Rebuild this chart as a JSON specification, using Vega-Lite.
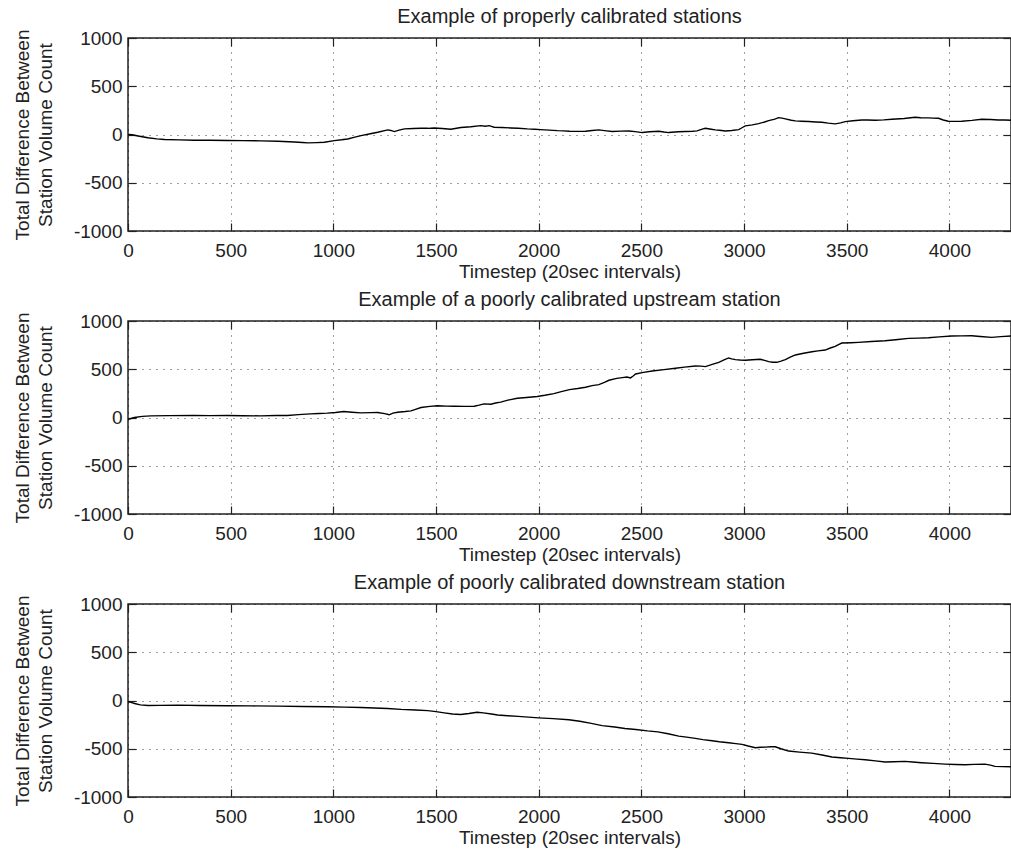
{
  "$schema": "https://vega.github.io/schema/vega-lite/v6.json",
  "padding": {"left": 12, "top": 6, "right": 0, "bottom": 5},
  "spacing": 90,
  "bounds": "flush",
  "datasets": {
    "p1": [
      {"t":0,"v":0},{"t":20,"v":-3},{"t":49,"v":-15},{"t":97,"v":-33},{"t":140,"v":-45},{"t":178,"v":-52},{"t":250,"v":-56},{"t":324,"v":-59},{"t":400,"v":-60},{"t":486,"v":-62},{"t":560,"v":-63},{"t":648,"v":-66},{"t":730,"v":-70},{"t":810,"v":-77},{"t":850,"v":-83},{"t":875,"v":-87},{"t":920,"v":-84},{"t":956,"v":-80},{"t":1005,"v":-63},{"t":1040,"v":-55},{"t":1070,"v":-46},{"t":1100,"v":-30},{"t":1135,"v":-11},{"t":1180,"v":8},{"t":1216,"v":23},{"t":1265,"v":48},{"t":1280,"v":42},{"t":1297,"v":30},{"t":1320,"v":45},{"t":1346,"v":58},{"t":1390,"v":62},{"t":1427,"v":65},{"t":1460,"v":64},{"t":1491,"v":68},{"t":1530,"v":62},{"t":1572,"v":55},{"t":1600,"v":65},{"t":1621,"v":72},{"t":1670,"v":80},{"t":1718,"v":92},{"t":1740,"v":85},{"t":1759,"v":92},{"t":1783,"v":75},{"t":1820,"v":72},{"t":1864,"v":68},{"t":1900,"v":65},{"t":1945,"v":58},{"t":1980,"v":55},{"t":2010,"v":51},{"t":2050,"v":45},{"t":2091,"v":40},{"t":2120,"v":38},{"t":2150,"v":34},{"t":2190,"v":32},{"t":2228,"v":34},{"t":2260,"v":42},{"t":2293,"v":48},{"t":2330,"v":38},{"t":2358,"v":31},{"t":2400,"v":35},{"t":2439,"v":37},{"t":2470,"v":30},{"t":2504,"v":20},{"t":2540,"v":28},{"t":2585,"v":34},{"t":2610,"v":26},{"t":2633,"v":20},{"t":2680,"v":28},{"t":2715,"v":31},{"t":2750,"v":34},{"t":2771,"v":37},{"t":2800,"v":58},{"t":2812,"v":65},{"t":2840,"v":55},{"t":2860,"v":48},{"t":2890,"v":42},{"t":2909,"v":37},{"t":2940,"v":42},{"t":2974,"v":51},{"t":2990,"v":70},{"t":3006,"v":89},{"t":3040,"v":100},{"t":3071,"v":113},{"t":3100,"v":130},{"t":3120,"v":144},{"t":3150,"v":160},{"t":3168,"v":175},{"t":3185,"v":170},{"t":3201,"v":162},{"t":3230,"v":148},{"t":3250,"v":141},{"t":3280,"v":137},{"t":3314,"v":134},{"t":3350,"v":130},{"t":3379,"v":127},{"t":3410,"v":118},{"t":3444,"v":110},{"t":3470,"v":120},{"t":3493,"v":134},{"t":3530,"v":142},{"t":3574,"v":151},{"t":3600,"v":150},{"t":3639,"v":148},{"t":3680,"v":152},{"t":3720,"v":158},{"t":3780,"v":166},{"t":3833,"v":179},{"t":3860,"v":174},{"t":3898,"v":172},{"t":3920,"v":170},{"t":3947,"v":168},{"t":3970,"v":150},{"t":3995,"v":138},{"t":4030,"v":136},{"t":4060,"v":138},{"t":4110,"v":146},{"t":4157,"v":158},{"t":4200,"v":155},{"t":4238,"v":151},{"t":4270,"v":150},{"t":4300,"v":148}
    ],
    "p2": [
      {"t":0,"v":-20},{"t":15,"v":-10},{"t":31,"v":0},{"t":70,"v":12},{"t":111,"v":17},{"t":200,"v":19},{"t":322,"v":21},{"t":400,"v":19},{"t":484,"v":21},{"t":560,"v":18},{"t":646,"v":17},{"t":720,"v":20},{"t":776,"v":21},{"t":830,"v":30},{"t":889,"v":38},{"t":930,"v":42},{"t":970,"v":45},{"t":1010,"v":52},{"t":1051,"v":62},{"t":1090,"v":55},{"t":1135,"v":48},{"t":1180,"v":50},{"t":1216,"v":52},{"t":1250,"v":40},{"t":1272,"v":28},{"t":1290,"v":45},{"t":1313,"v":55},{"t":1350,"v":62},{"t":1378,"v":69},{"t":1400,"v":85},{"t":1427,"v":103},{"t":1470,"v":115},{"t":1508,"v":121},{"t":1550,"v":118},{"t":1589,"v":117},{"t":1640,"v":115},{"t":1686,"v":117},{"t":1710,"v":128},{"t":1734,"v":141},{"t":1767,"v":138},{"t":1790,"v":150},{"t":1815,"v":159},{"t":1850,"v":180},{"t":1896,"v":200},{"t":1940,"v":208},{"t":1993,"v":217},{"t":2030,"v":230},{"t":2074,"v":248},{"t":2110,"v":268},{"t":2150,"v":289},{"t":2190,"v":300},{"t":2228,"v":314},{"t":2260,"v":330},{"t":2293,"v":341},{"t":2320,"v":365},{"t":2342,"v":386},{"t":2380,"v":405},{"t":2407,"v":413},{"t":2430,"v":420},{"t":2447,"v":410},{"t":2460,"v":430},{"t":2472,"v":451},{"t":2510,"v":468},{"t":2553,"v":482},{"t":2610,"v":496},{"t":2666,"v":510},{"t":2710,"v":522},{"t":2763,"v":534},{"t":2790,"v":532},{"t":2812,"v":527},{"t":2845,"v":550},{"t":2877,"v":572},{"t":2900,"v":595},{"t":2925,"v":617},{"t":2940,"v":608},{"t":2958,"v":600},{"t":2980,"v":596},{"t":3006,"v":593},{"t":3040,"v":598},{"t":3079,"v":603},{"t":3100,"v":592},{"t":3120,"v":579},{"t":3140,"v":572},{"t":3160,"v":572},{"t":3180,"v":585},{"t":3201,"v":600},{"t":3225,"v":625},{"t":3250,"v":648},{"t":3290,"v":666},{"t":3331,"v":682},{"t":3360,"v":690},{"t":3395,"v":699},{"t":3420,"v":720},{"t":3444,"v":737},{"t":3460,"v":755},{"t":3476,"v":772},{"t":3520,"v":775},{"t":3557,"v":779},{"t":3620,"v":788},{"t":3687,"v":796},{"t":3750,"v":808},{"t":3801,"v":820},{"t":3850,"v":823},{"t":3898,"v":826},{"t":3950,"v":835},{"t":4011,"v":844},{"t":4060,"v":846},{"t":4109,"v":847},{"t":4150,"v":840},{"t":4206,"v":830},{"t":4250,"v":838},{"t":4300,"v":844}
    ],
    "p3": [
      {"t":0,"v":-10},{"t":15,"v":-20},{"t":32,"v":-31},{"t":60,"v":-45},{"t":97,"v":-52},{"t":150,"v":-50},{"t":243,"v":-48},{"t":350,"v":-52},{"t":486,"v":-55},{"t":600,"v":-56},{"t":729,"v":-58},{"t":850,"v":-62},{"t":972,"v":-65},{"t":1053,"v":-69},{"t":1135,"v":-72},{"t":1200,"v":-78},{"t":1264,"v":-83},{"t":1330,"v":-92},{"t":1400,"v":-98},{"t":1460,"v":-105},{"t":1500,"v":-115},{"t":1540,"v":-128},{"t":1580,"v":-140},{"t":1620,"v":-145},{"t":1660,"v":-135},{"t":1700,"v":-122},{"t":1730,"v":-128},{"t":1770,"v":-140},{"t":1800,"v":-150},{"t":1850,"v":-158},{"t":1900,"v":-165},{"t":1950,"v":-172},{"t":2000,"v":-180},{"t":2070,"v":-188},{"t":2147,"v":-200},{"t":2200,"v":-215},{"t":2250,"v":-235},{"t":2309,"v":-260},{"t":2370,"v":-275},{"t":2420,"v":-290},{"t":2473,"v":-300},{"t":2530,"v":-315},{"t":2580,"v":-325},{"t":2630,"v":-345},{"t":2682,"v":-369},{"t":2720,"v":-380},{"t":2763,"v":-393},{"t":2800,"v":-405},{"t":2844,"v":-417},{"t":2880,"v":-428},{"t":2925,"v":-438},{"t":2960,"v":-447},{"t":2990,"v":-455},{"t":3020,"v":-472},{"t":3055,"v":-489},{"t":3080,"v":-485},{"t":3104,"v":-483},{"t":3130,"v":-480},{"t":3152,"v":-479},{"t":3180,"v":-500},{"t":3217,"v":-524},{"t":3270,"v":-535},{"t":3330,"v":-545},{"t":3380,"v":-565},{"t":3428,"v":-586},{"t":3470,"v":-593},{"t":3509,"v":-600},{"t":3550,"v":-607},{"t":3590,"v":-614},{"t":3640,"v":-626},{"t":3687,"v":-638},{"t":3730,"v":-635},{"t":3784,"v":-631},{"t":3820,"v":-638},{"t":3865,"v":-645},{"t":3920,"v":-652},{"t":3979,"v":-659},{"t":4030,"v":-663},{"t":4076,"v":-666},{"t":4120,"v":-662},{"t":4173,"v":-659},{"t":4200,"v":-670},{"t":4222,"v":-683},{"t":4260,"v":-685},{"t":4300,"v":-686}
    ]
  },
  "vconcat": [
    {
      "title": {"text": "Example of properly calibrated stations"},
      "width": 883, "height": 193,
      "data": {"name": "p1"},
      "layer": [
        {"mark": {"type": "line", "color": "#000", "strokeWidth": 1.4},
         "encoding": {
           "x": {"field": "t", "type": "quantitative", "scale": {"domain": [0, 4300], "nice": false, "zero": false},
                 "axis": {"orient": "bottom", "values": [0,500,1000,1500,2000,2500,3000,3500,4000], "title": "Timestep (20sec intervals)", "labelPadding": 18, "titlePadding": 2}},
           "y": {"field": "v", "type": "quantitative", "scale": {"domain": [-1000, 1000], "nice": false},
                 "axis": {"orient": "left", "values": [-1000,-500,0,500,1000], "title": ["Total Difference Between", "Station Volume Count"], "labelPadding": 14, "titlePadding": 18}}
         }},
        {"mark": {"type": "line", "opacity": 0},
         "encoding": {
           "x": {"field": "t", "type": "quantitative", "scale": {"domain": [0, 4300], "nice": false, "zero": false},
                 "axis": {"orient": "top", "values": [0,500,1000,1500,2000,2500,3000,3500,4000], "labels": false, "grid": false, "title": null}},
           "y": {"field": "v", "type": "quantitative", "scale": {"domain": [-1000, 1000], "nice": false},
                 "axis": {"orient": "right", "values": [-1000,-500,0,500,1000], "labels": false, "grid": false, "title": null}}
         }}
      ],
      "resolve": {"scale": {"x": "independent", "y": "independent"}, "axis": {"x": "independent", "y": "independent"}}
    },
    {
      "title": {"text": "Example of a poorly calibrated upstream station"},
      "width": 883, "height": 193,
      "data": {"name": "p2"},
      "layer": [
        {"mark": {"type": "line", "color": "#000", "strokeWidth": 1.4},
         "encoding": {
           "x": {"field": "t", "type": "quantitative", "scale": {"domain": [0, 4300], "nice": false, "zero": false},
                 "axis": {"orient": "bottom", "values": [0,500,1000,1500,2000,2500,3000,3500,4000], "title": "Timestep (20sec intervals)", "labelPadding": 18, "titlePadding": 2}},
           "y": {"field": "v", "type": "quantitative", "scale": {"domain": [-1000, 1000], "nice": false},
                 "axis": {"orient": "left", "values": [-1000,-500,0,500,1000], "title": ["Total Difference Between", "Station Volume Count"], "labelPadding": 14, "titlePadding": 18}}
         }},
        {"mark": {"type": "line", "opacity": 0},
         "encoding": {
           "x": {"field": "t", "type": "quantitative", "scale": {"domain": [0, 4300], "nice": false, "zero": false},
                 "axis": {"orient": "top", "values": [0,500,1000,1500,2000,2500,3000,3500,4000], "labels": false, "grid": false, "title": null}},
           "y": {"field": "v", "type": "quantitative", "scale": {"domain": [-1000, 1000], "nice": false},
                 "axis": {"orient": "right", "values": [-1000,-500,0,500,1000], "labels": false, "grid": false, "title": null}}
         }}
      ],
      "resolve": {"scale": {"x": "independent", "y": "independent"}, "axis": {"x": "independent", "y": "independent"}}
    },
    {
      "title": {"text": "Example of poorly calibrated downstream station"},
      "width": 883, "height": 193,
      "data": {"name": "p3"},
      "layer": [
        {"mark": {"type": "line", "color": "#000", "strokeWidth": 1.4},
         "encoding": {
           "x": {"field": "t", "type": "quantitative", "scale": {"domain": [0, 4300], "nice": false, "zero": false},
                 "axis": {"orient": "bottom", "values": [0,500,1000,1500,2000,2500,3000,3500,4000], "title": "Timestep (20sec intervals)", "labelPadding": 18, "titlePadding": 2}},
           "y": {"field": "v", "type": "quantitative", "scale": {"domain": [-1000, 1000], "nice": false},
                 "axis": {"orient": "left", "values": [-1000,-500,0,500,1000], "title": ["Total Difference Between", "Station Volume Count"], "labelPadding": 14, "titlePadding": 18}}
         }},
        {"mark": {"type": "line", "opacity": 0},
         "encoding": {
           "x": {"field": "t", "type": "quantitative", "scale": {"domain": [0, 4300], "nice": false, "zero": false},
                 "axis": {"orient": "top", "values": [0,500,1000,1500,2000,2500,3000,3500,4000], "labels": false, "grid": false, "title": null}},
           "y": {"field": "v", "type": "quantitative", "scale": {"domain": [-1000, 1000], "nice": false},
                 "axis": {"orient": "right", "values": [-1000,-500,0,500,1000], "labels": false, "grid": false, "title": null}}
         }}
      ],
      "resolve": {"scale": {"x": "independent", "y": "independent"}, "axis": {"x": "independent", "y": "independent"}}
    }
  ],
  "config": {
    "font": "Liberation Sans",
    "view": {"stroke": "#222", "strokeWidth": 1.5},
    "axis": {"domain": false, "grid": true, "gridColor": "#000", "gridDash": [1, 6], "gridOpacity": 0.75, "gridWidth": 1,
             "ticks": true, "tickColor": "#222", "tickSize": -8, "tickWidth": 1.2,
             "labelFontSize": 19, "labelColor": "#222", "labelFlush": false, "labelOverlap": false,
             "labelExpr": "'' + datum.value",
             "titleFontSize": 19, "titleFontWeight": "normal", "titleColor": "#222", "titleLineHeight": 23},
    "title": {"fontSize": 20, "fontWeight": "normal", "color": "#222", "offset": 2}
  }
}
